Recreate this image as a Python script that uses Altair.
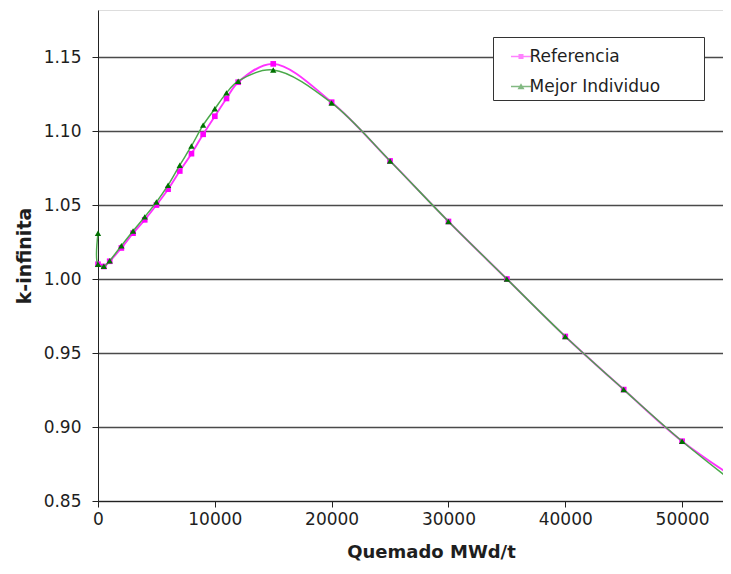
import altair as alt
import pandas as pd

# Quemado (MWd/t) and k-infinita values
x_ref = [0, 500, 1000, 2000, 3000, 4000, 5000, 6000, 7000, 8000, 9000, 10000,
         11000, 12000, 15000, 20000, 25000, 30000, 35000, 40000, 45000, 50000, 55000]
k_ref = [1.010, 1.0085, 1.012, 1.021, 1.031, 1.040, 1.050, 1.0607, 1.073, 1.0847,
         1.0978, 1.110, 1.122, 1.133, 1.1454, 1.1195, 1.0798, 1.0389, 1.000,
         0.9612, 0.9253, 0.8904, 0.863]

x_mej = [0, 0, 500, 1000, 2000, 3000, 4000, 5000, 6000, 7000, 8000, 9000, 10000,
         11000, 12000, 15000, 20000, 25000, 30000, 35000, 40000, 45000, 50000, 55000]
k_mej = [1.031, 1.010, 1.0086, 1.0124, 1.0225, 1.0325, 1.042, 1.052, 1.0634, 1.0769,
         1.0899, 1.104, 1.115, 1.1258, 1.1337, 1.1413, 1.119, 1.0798, 1.0389, 1.000,
         0.9612, 0.9253, 0.8904, 0.859]

series = ["Referencia", "Mejor Individuo"]
x_ticks = [0, 10000, 20000, 30000, 40000, 50000]
y_ticks = [0.85, 0.90, 0.95, 1.00, 1.05, 1.10, 1.15]

df_ref = pd.DataFrame({"x": x_ref, "k": k_ref, "i": range(len(x_ref)), "serie": series[0]})
df_mej = pd.DataFrame({"x": x_mej, "k": k_mej, "i": range(len(x_mej)), "serie": series[1]})

FONT = "DejaVu Sans"
TXT = "#1e1e1e"

xs = alt.Scale(domain=[0, 53500], nice=False, zero=False)
ys = alt.Scale(domain=[0.85, 1.1818], nice=False, zero=False)

X = alt.X("x:Q", scale=xs, axis=alt.Axis(
    values=x_ticks, format="d", title="Quemado MWd/t", grid=False,
    tickSize=6, tickColor="#222", domainColor="#222", labelFlush=False,
    labelFont=FONT, labelFontSize=17, labelColor=TXT, labelPadding=4,
    titleFont=FONT, titleFontSize=18, titleFontWeight="bold", titleColor=TXT,
    titlePadding=16, titleX=333))
Y = alt.Y("k:Q", scale=ys, axis=alt.Axis(
    values=y_ticks, format=".2f", title="k-infinita", grid=True,
    gridColor="#4a4a4a", gridWidth=1.3, tickSize=6, tickColor="#222",
    domainColor="#222", labelFont=FONT, labelFontSize=17, labelColor=TXT,
    labelPadding=11, titleFont=FONT, titleFontSize=19, titleFontWeight="bold",
    titleColor=TXT, titlePadding=9))

line_ref = alt.Chart(df_ref).mark_line(
    color="#ff33ff", strokeWidth=1.9, interpolate="catmull-rom").encode(
    x=X, y=Y, order="i:Q")
pts_ref = alt.Chart(df_ref).mark_point(
    shape="square", filled=True, size=32, color="#ff00ff", opacity=1).encode(
    x=alt.X("x:Q", scale=xs), y=alt.Y("k:Q", scale=ys))
line_mej = alt.Chart(df_mej).mark_line(
    color="#4aa84a", strokeWidth=1.5, interpolate="catmull-rom").encode(
    x=alt.X("x:Q", scale=xs), y=alt.Y("k:Q", scale=ys), order="i:Q")
pts_mej = alt.Chart(df_mej).mark_point(
    shape="triangle-up", filled=True, size=40, color="#007000", opacity=1).encode(
    x=alt.X("x:Q", scale=xs), y=alt.Y("k:Q", scale=ys))

# legend glyphs: short line with the series marker in the middle
sq_path = "M-1.43,-0.107H1.43V0.107H-1.43Z M-0.36,-0.36H0.36V0.36H-0.36Z"
tri_path = "M-1.43,-0.107H1.43V0.107H-1.43Z M0,-0.45L0.5,0.4H-0.5Z"

PAD = "\u00a0" * 7 + "\u200b"

legend_layer = alt.Chart(df_ref).mark_point(filled=True).encode(
    x=alt.X("x:Q", scale=xs), y=alt.Y("k:Q", scale=ys),
    color=alt.Color("serie:N", scale=alt.Scale(domain=series, range=["#ff00ff", "#007000"]),
                    legend=alt.Legend(
                        orient="none", legendX=395, legendY=27, title=" ",
                        titleFontSize=1, titlePadding=5, strokeColor="#333",
                        fillColor="white", padding=5, symbolSize=196,
                        symbolOffset=14.5, labelOffset=0, symbolStrokeWidth=0,
                        symbolOpacity=1, labelFont=FONT, labelFontSize=17,
                        labelColor=TXT, labelLimit=400, rowPadding=12,
                        labelExpr="datum.label + '" + PAD + "'")),
    shape=alt.Shape("serie:N", scale=alt.Scale(domain=series, range=[sq_path, tri_path])),
).transform_filter("false")

chart = alt.layer(line_ref, pts_ref, line_mej, pts_mej, legend_layer).properties(
    width=625, height=491,
    autosize=alt.AutoSizeParams(type="none"),
    padding={"left": 90, "top": 2, "right": 0, "bottom": 62},
).configure_view(stroke=None).configure(background="white")

chart.save("out.html", embed_options={"renderer": "svg", "actions": False})
